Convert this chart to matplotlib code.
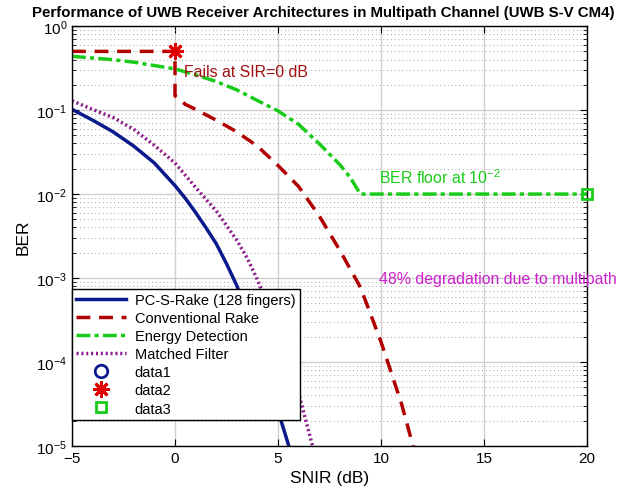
import matplotlib
matplotlib.use("Agg")
import matplotlib.pyplot as plt
from matplotlib.ticker import LogLocator, NullFormatter

plt.rcParams['font.family'] = ['Liberation Sans', 'DejaVu Sans']
plt.rcParams['mathtext.fontset'] = 'custom'
plt.rcParams['mathtext.rm'] = 'Liberation Sans'
plt.rcParams['mathtext.it'] = 'Liberation Sans:italic'
plt.rcParams['mathtext.bf'] = 'Liberation Sans:bold'

# PC-S-Rake (128 fingers)
snr_rake = [-5, -4, -3, -2, -1, 0, 0.5, 1, 1.5, 2, 2.5, 3, 3.5, 4, 4.5, 5, 5.6]
ber_rake = [0.102, 0.0759, 0.0550, 0.0372, 0.0234, 0.0126, 0.00891, 0.00603,
            0.00398, 0.00257, 0.00148, 8.13e-4, 3.63e-4, 1.51e-4, 6.31e-5,
            2.63e-5, 8.7e-6]
# Conventional Rake
snr_conv = [-5, -4, -3, -2, -1, 0, 0, 0.5, 1, 2, 3, 4, 5, 6, 7, 8, 9, 10, 11, 11.6]
ber_conv = [0.5, 0.5, 0.5, 0.5, 0.5, 0.5, 0.148, 0.117, 0.102, 0.0759, 0.0550,
            0.0372, 0.0219, 0.0123, 0.0055, 0.00214, 7.76e-4, 1.74e-4, 3.16e-5,
            9.1e-6]
# Energy Detection
snr_ed = [-5, -4, -3, -2, -1, 0, 1, 2, 3, 4, 5, 6, 7, 8, 8.5, 9, 12, 15, 18, 20]
ber_ed = [0.437, 0.417, 0.398, 0.372, 0.339, 0.309, 0.263, 0.219, 0.174,
          0.130, 0.0977, 0.0676, 0.0398, 0.0224, 0.0158, 0.01, 0.01, 0.01,
          0.01, 0.01]
# Matched Filter
snr_mf = [-5, -4, -3, -2, -1, 0, 1, 2, 3, 3.5, 4, 4.5, 5, 5.5, 6, 6.7]
ber_mf = [0.129, 0.102, 0.0813, 0.0589, 0.0380, 0.0234, 0.0120, 0.00631,
          0.00282, 0.00174, 9.55e-4, 4.68e-4, 2.09e-4, 9.55e-5, 4.27e-5, 9.5e-6]

# marker points
snr_d1, ber_d1 = [], []
snr_d2, ber_d2 = [0], [0.5]
snr_d3, ber_d3 = [20], [0.01]

fig = plt.figure(figsize=(6.4, 5.02), dpi=100)
ax = fig.add_axes([0.1125, 0.1096, 0.8047, 0.8364])

ax.semilogy(snr_rake, ber_rake, '-', color='#0a1a8c', lw=2.5, label='PC-S-Rake (128 fingers)')
ax.semilogy(snr_conv, ber_conv, '--', color='#b00000', lw=2.5, dashes=(4, 2.5), label='Conventional Rake')
ax.semilogy(snr_ed, ber_ed, '-.', color='#19cc19', lw=2.5, dashes=(4, 1.2, 1.2, 1.2), label='Energy Detection')
ax.semilogy(snr_mf, ber_mf, ':', color='#8c1a8c', lw=2.5, dashes=(0.6, 0.8), label='Matched Filter')
ax.semilogy(snr_d1, ber_d1, 'o', color='#0a1a8c', mfc='none', ms=9, mew=2, label='data1')
ax.semilogy(snr_d2, ber_d2, marker=(8, 2, 0), ls='none', color='#e00000', ms=12, mew=2,
            label='data2', clip_on=False)
ax.semilogy(snr_d3, ber_d3, 's', color='#19cc19', mfc='none', ms=7.5, mew=2,
            label='data3', clip_on=False, zorder=5)

ax.text(0.45, 0.29, 'Fails at SIR=0 dB', color='#a01010', fontsize=11.4, va='center')
ax.text(9.9, 0.016, 'BER floor at $10^{-2}$', color='#19cc19', fontsize=11.4, va='center')
ax.text(9.9, 0.001, '48% degradation due to multipath', color='#cc22cc', fontsize=11.4, va='center')

ax.set_xlim(-5, 20)
ax.set_ylim(1e-5, 1)
ax.set_xticks([-5, 0, 5, 10, 15, 20])
ax.yaxis.set_minor_locator(LogLocator(base=10, subs=range(2, 10), numticks=20))
ax.yaxis.set_minor_formatter(NullFormatter())
ax.grid(True, which='major', color='#cfcfcf', lw=1)
ax.grid(True, which='minor', axis='y', color='#a0a0a0', lw=0.7, linestyle=(0, (0.9, 3)))
ax.tick_params(direction='in', which='both', top=True, right=True, labelsize=11)
ax.tick_params(which='major', length=5)
ax.tick_params(which='minor', length=3)
for s in ax.spines.values():
    s.set_linewidth(1)

ax.set_xlabel('SNIR (dB)', fontsize=12.5)
ax.set_ylabel('BER', fontsize=12.5)
ax.set_title('Performance of UWB Receiver Architectures in Multipath Channel (UWB S-V CM4)',
             fontsize=10.8, fontweight='bold', pad=7, x=0.487)

leg = ax.legend(loc='lower left', bbox_to_anchor=(0.0, 0.062), fontsize=10.5,
                handlelength=3.4, labelspacing=0.28, borderpad=0.3, handletextpad=0.6,
                fancybox=False, framealpha=1, edgecolor='black', borderaxespad=0)
leg.get_frame().set_linewidth(1)

fig.savefig('out.png', dpi=100)
